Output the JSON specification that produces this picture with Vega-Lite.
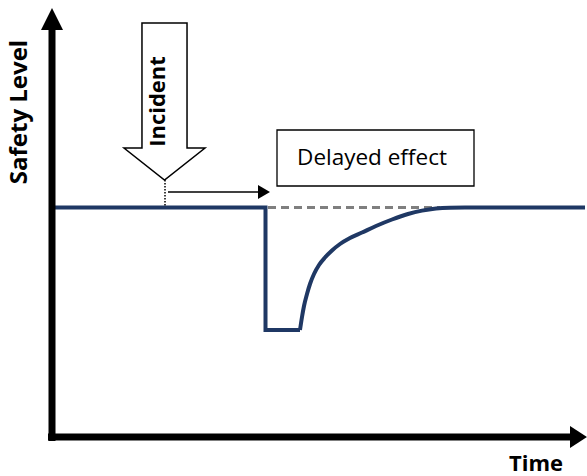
{
  "$schema": "https://vega.github.io/schema/vega-lite/v6.json",
  "width": 587,
  "height": 476,
  "autosize": "none",
  "padding": 0,
  "background": "white",
  "config": {"view": {"stroke": null}},
  "datasets": {
    "axes": [
      {"axis": "Safety Level", "t": 52, "s": 441, "t2": 52, "s2": 28},
      {"axis": "Time", "t": 48, "s": 437, "t2": 572, "s2": 437}
    ],
    "heads": [
      {"axis": "Safety Level", "t": 52, "s": 19},
      {"axis": "Time", "t": 578.5, "s": 437}
    ],
    "profile": [
      {"phase": "drop", "t": 52, "s": 207.5},
      {"phase": "drop", "t": 265.5, "s": 207.5},
      {"phase": "drop", "t": 265.5, "s": 330},
      {"phase": "drop", "t": 300, "s": 330},
      {"phase": "recovery", "t": 300, "s": 330},
      {"phase": "recovery", "t": 302, "s": 317},
      {"phase": "recovery", "t": 304, "s": 306},
      {"phase": "recovery", "t": 307, "s": 294},
      {"phase": "recovery", "t": 310, "s": 284},
      {"phase": "recovery", "t": 314, "s": 274},
      {"phase": "recovery", "t": 319, "s": 265},
      {"phase": "recovery", "t": 325, "s": 257.5},
      {"phase": "recovery", "t": 332, "s": 250.5},
      {"phase": "recovery", "t": 340, "s": 244},
      {"phase": "recovery", "t": 350, "s": 238},
      {"phase": "recovery", "t": 362, "s": 232.5},
      {"phase": "recovery", "t": 376, "s": 226},
      {"phase": "recovery", "t": 392, "s": 219.5},
      {"phase": "recovery", "t": 408, "s": 214},
      {"phase": "recovery", "t": 422, "s": 210.6},
      {"phase": "recovery", "t": 436, "s": 208.5},
      {"phase": "recovery", "t": 450, "s": 207.7},
      {"phase": "recovery", "t": 465, "s": 207.5},
      {"phase": "recovery", "t": 585, "s": 207.5}
    ],
    "reference": [{"t": 268, "s": 207.5, "t2": 440, "s2": 207.5}],
    "incident": [{"t": 164.5, "s": 101.5, "label": "Incident"}],
    "dotted": [{"t": 165, "s": 180, "t2": 165, "s2": 206}],
    "delay": [{"t": 168, "s": 192, "t2": 259, "s2": 192, "th": 264}],
    "box": [{"t": 277, "s": 130, "t2": 474, "s2": 186, "tc": 372, "sb": 165, "label": "Delayed effect"}],
    "titles": [
      {"label": "Safety Level", "t": 27, "s": 112},
      {"label": "Time", "t": 536, "s": 471}
    ]
  },
  "layer": [
    {
      "data": {"name": "reference"},
      "mark": {"type": "rule", "color": "#7f7f7f", "strokeWidth": 3, "strokeDash": [8, 5]},
      "encoding": {
        "x": {"field": "t", "type": "quantitative", "scale": {"domain": [0, 587], "nice": false, "zero": false}, "axis": null},
        "y": {"field": "s", "type": "quantitative", "scale": {"domain": [0, 476], "nice": false, "zero": false, "reverse": true}, "axis": null},
        "x2": {"field": "t2"},
        "y2": {"field": "s2"}
      }
    },
    {
      "data": {"name": "profile"},
      "transform": [{"filter": "datum.phase === 'drop'"}],
      "mark": {"type": "line", "color": "#1f3864", "strokeWidth": 4, "interpolate": "linear"},
      "encoding": {
        "x": {"field": "t", "type": "quantitative", "axis": null},
        "y": {"field": "s", "type": "quantitative", "axis": null},
        "order": {"field": "__i", "type": "quantitative"}
      }
    },
    {
      "data": {"name": "profile"},
      "transform": [{"filter": "datum.phase === 'recovery'"}],
      "mark": {"type": "line", "color": "#1f3864", "strokeWidth": 4, "interpolate": "monotone"},
      "encoding": {
        "x": {"field": "t", "type": "quantitative", "axis": null},
        "y": {"field": "s", "type": "quantitative", "axis": null}
      }
    },
    {
      "data": {"name": "axes"},
      "mark": {"type": "rule", "color": "black", "strokeWidth": 7, "strokeCap": "butt"},
      "encoding": {
        "x": {"field": "t", "type": "quantitative", "axis": null},
        "y": {"field": "s", "type": "quantitative", "axis": null},
        "x2": {"field": "t2"},
        "y2": {"field": "s2"}
      }
    },
    {
      "data": {"name": "heads"},
      "transform": [{"filter": "datum.axis === 'Safety Level'"}],
      "mark": {"type": "point", "shape": "M-1,1L1,1L0,-1Z", "size": 484, "filled": true, "color": "black", "opacity": 1, "strokeWidth": 0},
      "encoding": {
        "x": {"field": "t", "type": "quantitative", "axis": null},
        "y": {"field": "s", "type": "quantitative", "axis": null}
      }
    },
    {
      "data": {"name": "heads"},
      "transform": [{"filter": "datum.axis === 'Time'"}],
      "mark": {"type": "point", "shape": "M-0.77,-1L0.77,0L-0.77,1Z", "size": 484, "filled": true, "color": "black", "opacity": 1, "strokeWidth": 0},
      "encoding": {
        "x": {"field": "t", "type": "quantitative", "axis": null},
        "y": {"field": "s", "type": "quantitative", "axis": null}
      }
    },
    {
      "data": {"name": "incident"},
      "mark": {"type": "point", "shape": "M-0.287,-1L0.287,-1L0.287,0.592L0.516,0.592L0,1L-0.516,0.592L-0.287,0.592Z", "size": 24649, "filled": false, "stroke": "black", "strokeWidth": 1.5, "opacity": 1, "strokeJoin": "miter"},
      "encoding": {
        "x": {"field": "t", "type": "quantitative", "axis": null},
        "y": {"field": "s", "type": "quantitative", "axis": null}
      }
    },
    {
      "data": {"name": "incident"},
      "mark": {"type": "text", "angle": 270, "align": "center", "baseline": "alphabetic", "font": "Open Sans", "fontWeight": "bold", "fontSize": 22, "color": "black"},
      "encoding": {
        "x": {"field": "t", "type": "quantitative", "axis": null},
        "y": {"field": "s", "type": "quantitative", "axis": null},
        "text": {"field": "label"}
      }
    },
    {
      "data": {"name": "dotted"},
      "mark": {"type": "rule", "color": "black", "strokeWidth": 1.5, "strokeDash": [1.5, 1.5]},
      "encoding": {
        "x": {"field": "t", "type": "quantitative", "axis": null},
        "y": {"field": "s", "type": "quantitative", "axis": null},
        "x2": {"field": "t2"},
        "y2": {"field": "s2"}
      }
    },
    {
      "data": {"name": "delay"},
      "mark": {"type": "rule", "color": "black", "strokeWidth": 1.5},
      "encoding": {
        "x": {"field": "t", "type": "quantitative", "axis": null},
        "y": {"field": "s", "type": "quantitative", "axis": null},
        "x2": {"field": "t2"},
        "y2": {"field": "s2"}
      }
    },
    {
      "data": {"name": "delay"},
      "mark": {"type": "point", "shape": "M-0.857,-1L0.857,0L-0.857,1Z", "size": 196, "filled": true, "color": "black", "opacity": 1, "strokeWidth": 0},
      "encoding": {
        "x": {"field": "th", "type": "quantitative", "axis": null},
        "y": {"field": "s", "type": "quantitative", "axis": null}
      }
    },
    {
      "data": {"name": "box"},
      "mark": {"type": "rect", "fill": "white", "stroke": "black", "strokeWidth": 1.3},
      "encoding": {
        "x": {"field": "t", "type": "quantitative", "axis": null},
        "y": {"field": "s", "type": "quantitative", "axis": null},
        "x2": {"field": "t2"},
        "y2": {"field": "s2"}
      }
    },
    {
      "data": {"name": "box"},
      "mark": {"type": "text", "align": "center", "baseline": "alphabetic", "font": "Open Sans", "fontSize": 22.5, "color": "black"},
      "encoding": {
        "x": {"field": "tc", "type": "quantitative", "axis": null},
        "y": {"field": "sb", "type": "quantitative", "axis": null},
        "text": {"field": "label"}
      }
    },
    {
      "data": {"name": "titles"},
      "transform": [{"filter": "datum.label === 'Safety Level'"}],
      "mark": {"type": "text", "angle": 270, "align": "center", "baseline": "alphabetic", "font": "Open Sans", "fontWeight": "bold", "fontSize": 24, "color": "black"},
      "encoding": {
        "x": {"field": "t", "type": "quantitative", "axis": null},
        "y": {"field": "s", "type": "quantitative", "axis": null},
        "text": {"field": "label"}
      }
    },
    {
      "data": {"name": "titles"},
      "transform": [{"filter": "datum.label === 'Time'"}],
      "mark": {"type": "text", "align": "center", "baseline": "alphabetic", "font": "Open Sans", "fontWeight": "bold", "fontSize": 22, "color": "black"},
      "encoding": {
        "x": {"field": "t", "type": "quantitative", "axis": null},
        "y": {"field": "s", "type": "quantitative", "axis": null},
        "text": {"field": "label"}
      }
    }
  ]
}
